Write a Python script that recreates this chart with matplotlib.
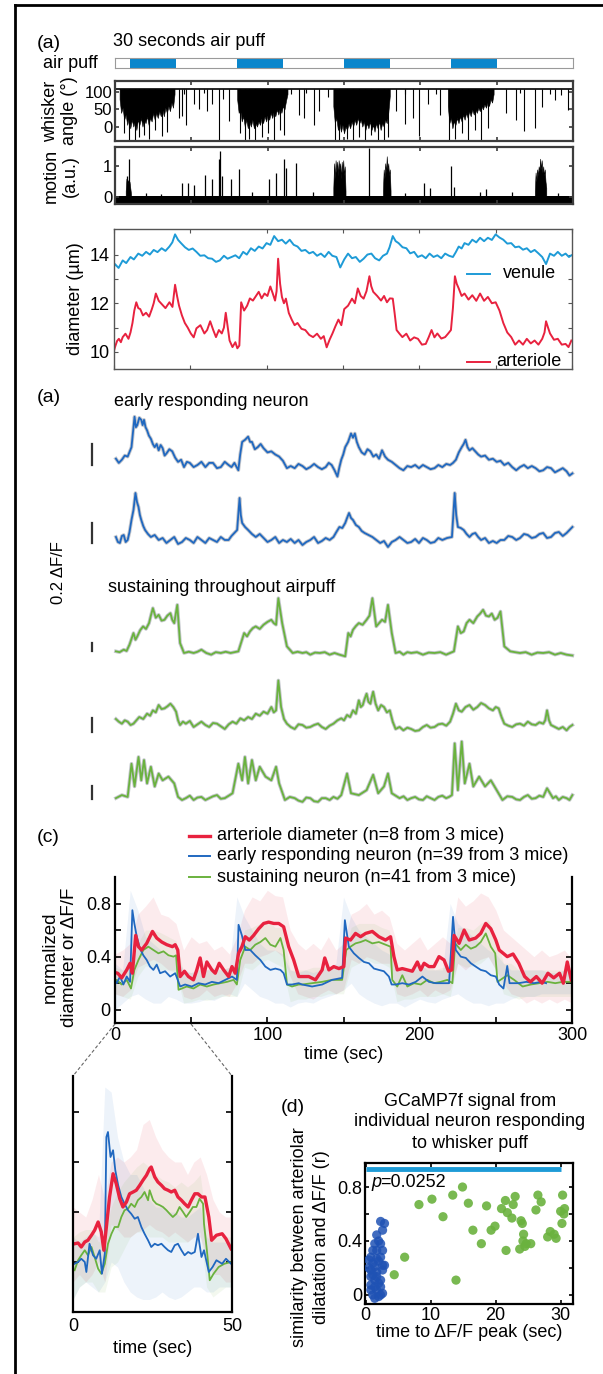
import numpy as np
import matplotlib
matplotlib.use("Agg")
import matplotlib.pyplot as plt
from matplotlib.lines import Line2D

plt.rcParams['font.family'] = ['Liberation Sans', 'DejaVu Sans']
plt.rcParams['font.size'] = 13

# ------------------------------------------------------------------------------------------
# data

puff_on = [10, 80, 150, 220]
puff_off = [40, 110, 180, 250]

# whisker angle (deg): resting level, dense whisking blocks (lower edge) and single dips
whisker_rest = 110
whisker_blocks = [
    [(3, 80), (4, 40), (5, 55), (6, 20), (7, 35), (8, 5), (9, 25), (10, -5), (11, 20), (12, 0), (13, 15), (14, -10),
     (15, 20), (16, 5), (17, 25), (18, 0), (19, 20), (20, 10), (21, 30), (22, 5), (23, 25), (24, 15), (25, 40),
     (26, 20), (27, 40), (28, 25), (29, 45), (30, 30), (31, 50), (32, 30), (33, 55), (34, 40), (35, 60), (36, 45),
     (37, 70), (38, 55), (39, 95)],
    [(80, 80), (81, 40), (82, 50), (83, 15), (84, 30), (85, 0), (86, 20), (87, -5), (88, 15), (89, 0), (90, 20),
     (91, -5), (92, 10), (93, 0), (94, 15), (95, 5), (96, 25), (97, 10), (98, 30), (99, 15), (100, 35), (101, 20),
     (102, 40), (103, 25), (104, 45), (105, 30), (106, 50), (107, 35), (108, 55), (109, 40), (110, 60), (111, 50),
     (112, 75), (113, 95)],
    [(143, 60), (144, 10), (145, 25), (146, -10), (147, 10), (148, -15), (149, 5), (150, -20), (151, 0), (152, -10),
     (153, 10), (154, -5), (155, 15), (156, 0), (157, 20), (158, 5), (159, 25), (160, 10), (161, 20), (162, 0),
     (163, 15), (164, -10), (165, 10), (166, -5), (167, 15), (168, -10), (169, 5), (170, -15), (171, 10), (172, -5),
     (173, 15), (174, -10), (175, 10), (176, 0), (177, 20), (178, 10), (179, 40), (180, 90)],
    [(218, 60), (219, 10), (220, 25), (221, -5), (222, 15), (223, 5), (224, 25), (225, 10), (226, 30), (227, 15),
     (228, 35), (229, 20), (230, 40), (231, 25), (232, 45), (233, 30), (234, 50), (235, 35), (236, 50), (237, 40),
     (238, 55), (239, 45), (240, 60), (241, 50), (242, 65), (243, 55), (244, 70), (245, 60), (246, 80), (247, 70),
     (248, 95)],
]
whisker_dips = [(6, -20), (9, -40), (13, -41), (16, -30), (19, -25), (22, -35), (26, -10), (31, -28), (34, -15),
                (41.7, 24), (44, 30), (46.4, 4), (51.5, 65), (55, 50), (60.5, 45), (63.6, 65), (68, -41), (71, 80),
                (74.6, 15), (82, -20), (85, -40), (88, -35), (92, -41), (96, -30), (100, -20), (104, -38), (108, -10),
                (111, -25), (120.6, 34), (123.9, 24), (130.5, 4), (133.8, 45), (139.3, 85), (144, -41), (147, -41),
                (152, -35), (156, -38), (160, -30), (164, -41), (168, -25), (172, -38), (176, -41), (179, -30),
                (184, 45), (189.7, 9), (195, 24), (199, -26), (205, 65), (213, 34), (219, -41), (223, -35), (227, -20),
                (231, -38), (236, -10), (240, -38), (244, -5), (256, 39), (262.5, 18), (268, -12), (275, -3),
                (280, 58), (288, 79), (297, 48), (45, 95), (58, 98), (115, 95), (125, 98), (190, 95), (210, 96),
                (265, 97), (285, 96), (292, 92)]

# motion (a.u.)
motion_rest = 0.03
motion_spikes = [(7.7, 0.68), (9.4, 1.23), (20, 0.12), (30, 0.1), (43.9, 0.46), (47.8, 0.46), (51.5, 0.4),
                 (59.2, 0.73), (63.6, 0.57), (68, 1.23), (68.6, 1.51), (70.2, 0.68), (75.7, 0.57), (81.1, 0.9),
                 (90, 0.15), (101, 0.57), (105.3, 0.79), (110.8, 1.23), (112.3, 0.96), (118.4, 1.12), (130, 0.15),
                 (166.5, 1.6), (190, 0.12), (202.6, 0.45), (206.6, 0.28), (220, 1.0), (221.8, 0.33), (239, 0.17),
                 (243, 0.25), (260, 0.15), (290, 0.12)]
motion_blocks = [
    [(7, 0.2), (7.5, 0.6), (8, 0.4), (8.5, 0.55), (9, 0.35), (9.5, 0.5), (10, 0.3), (10.5, 0.1)],
    [(143, 0.3), (143.5, 1.1), (144, 0.6), (144.5, 1.2), (145, 0.8), (145.5, 1.15), (146, 0.7), (146.5, 1.2),
     (147, 0.9), (147.5, 1.1), (148, 0.6), (148.5, 1.15), (149, 0.8), (149.5, 1.2), (150, 0.7), (150.5, 1.0),
     (151, 0.2)],
    [(175.5, 0.2), (176, 0.9), (176.5, 0.6), (177, 1.1), (177.5, 0.8), (178, 1.33), (178.5, 0.9), (179, 1.1),
     (179.5, 0.7), (180, 0.9), (180.5, 0.2)],
    [(275, 0.2), (275.5, 0.8), (276, 0.5), (276.5, 0.9), (277, 0.7), (277.5, 1.0), (278, 0.85), (278.5, 1.25),
     (279, 0.9), (279.5, 1.2), (280, 0.8), (280.5, 1.0), (281, 0.7), (281.5, 0.9), (282, 0.5), (282.5, 0.3)],
]

# vessel diameter (um)
venule = [(0, 13.5), (0.6, 13.61), (3, 13.45), (5.7, 13.76), (8, 13.65), (10.8, 13.9), (13, 13.8), (15.9, 14.04),
          (18.5, 13.95), (21, 14.11), (23.5, 14.0), (26, 14.19), (28.5, 14.1), (31.2, 14.26), (33.7, 14.15),
          (36.3, 14.33), (38.2, 14.5), (40, 14.83), (42, 14.6), (43.9, 14.47), (46.5, 14.3), (49, 14.19),
          (51.5, 14.25), (54, 14.11), (56.5, 13.95), (59.2, 13.97), (61.7, 13.85), (64.2, 13.83), (66.8, 13.7),
          (69.3, 13.76), (72, 13.95), (74.4, 13.83), (77, 13.9), (79.5, 13.97), (82, 13.85), (84.6, 14.11),
          (87, 14.0), (89.7, 14.26), (92.2, 14.15), (94.8, 14.33), (97.3, 14.25), (99.9, 14.47), (102.4, 14.4),
          (104.9, 14.76), (107.5, 14.55), (110, 14.61), (112.5, 14.45), (115.1, 14.61), (117.7, 14.4),
          (120.2, 14.33), (122.8, 14.15), (125.3, 14.19), (127.9, 14.05), (130.4, 14.11), (133, 13.95),
          (135.5, 14.04), (138, 13.9), (140.6, 14.11), (143, 13.95), (145.7, 13.9), (148.2, 13.47), (150.8, 13.8),
          (153.3, 14.04), (155.9, 13.85), (158.4, 13.9), (161, 13.7), (163.5, 13.83), (166, 14.0), (168.6, 14.04),
          (171, 13.85), (173.7, 13.76), (176.2, 13.95), (178.8, 14.04), (180.5, 14.3), (182.6, 14.76),
          (184.5, 14.55), (186.4, 14.47), (189, 14.3), (191.5, 14.26), (194, 14.05), (196.6, 14.11), (199, 13.9),
          (201.7, 13.97), (204.2, 13.85), (206.7, 14.04), (209.3, 13.9), (211.8, 13.97), (214.4, 13.85),
          (216.9, 14.04), (219.5, 13.95), (222, 13.9), (223.9, 14.1), (225.8, 14.33), (227.7, 14.25),
          (229.6, 14.47), (232.2, 14.4), (234.7, 14.61), (237.3, 14.5), (239.8, 14.69), (242.4, 14.55),
          (244.9, 14.69), (247.5, 14.6), (250, 14.83), (252.5, 14.7), (255, 14.61), (257.6, 14.45),
          (260.2, 14.47), (262.8, 14.3), (265.3, 14.33), (267.9, 14.2), (270.4, 14.26), (273, 14.1),
          (275.5, 14.19), (278, 14.05), (280.5, 13.9), (283, 13.61), (285.6, 14.04), (288.2, 13.95),
          (290.7, 14.11), (293.3, 13.95), (295.8, 14.04), (298, 13.9), (299.6, 13.97)]
arteriole = [(0, 10.05), (0.6, 10.19), (2, 10.45), (3.2, 10.54), (4.5, 10.4), (5.7, 10.61), (7.5, 10.75),
             (9.5, 10.54), (10.8, 10.8), (12.1, 11.19), (13.3, 11.7), (14.6, 12.04), (15.9, 11.8), (17.2, 11.76),
             (19, 11.5), (21, 11.61), (23, 11.45), (24.8, 11.76), (26, 12.0), (27.4, 12.4), (29.3, 12.1),
             (31.2, 11.97), (33.7, 11.8), (36.3, 12.04), (38.3, 11.85), (40, 12.76), (41.3, 12.3), (42.6, 11.9),
             (44.5, 11.5), (46.4, 11.19), (48.3, 11.0), (50.3, 10.76), (52.2, 10.6), (54, 10.97), (56.6, 11.1),
             (59.2, 10.76), (61, 10.9), (63, 11.26), (65, 10.9), (66.8, 10.61), (68.7, 10.9), (70.6, 10.76),
             (72, 11.0), (73.2, 11.61), (74.5, 11.0), (75.7, 10.47), (77.6, 10.2), (79.5, 10.4), (80.8, 10.15),
             (82.1, 10.26), (83.3, 12.04), (85.2, 11.7), (87.2, 11.9), (89, 12.2), (91, 12.11), (93, 12.3),
             (94.8, 12.47), (96.7, 12.2), (98.6, 12.4), (100.5, 12.3), (102.4, 12.69), (104, 12.4), (105.5, 12.11),
             (106.5, 12.5), (107.5, 13.83), (108.8, 12.8), (110, 12.26), (111.3, 12.0), (112.6, 12.19),
             (114.5, 11.6), (116.4, 11.33), (118.3, 11.1), (120.2, 11.19), (122.8, 10.95), (125.3, 10.9),
             (127.9, 10.7), (130.4, 10.61), (133, 10.75), (135.5, 10.54), (137.4, 10.65), (139.3, 10.19),
             (141.2, 10.5), (143.1, 10.76), (145, 11.05), (147, 11.33), (148.9, 11.1), (150.8, 11.76),
             (153.3, 11.9), (155.9, 12.19), (157.8, 12.0), (159.7, 12.61), (161.6, 12.3), (163.5, 12.19),
             (165.4, 12.5), (167.3, 13.11), (168.5, 12.7), (169.8, 12.47), (172.4, 12.3), (174.9, 12.11),
             (176.9, 12.3), (178.8, 12.04), (180.7, 12.2), (182.6, 12.19), (183.8, 11.6), (185.1, 10.9),
             (187, 10.75), (188.9, 10.61), (191.5, 10.75), (194, 10.47), (196.6, 10.6), (199.1, 10.54),
             (201.7, 10.3), (204.2, 10.33), (206.1, 10.6), (208, 10.9), (209.9, 10.6), (211.8, 10.76),
             (214.4, 10.55), (216.9, 10.61), (218.8, 10.75), (220.7, 10.9), (222, 11.8), (223.3, 13.11),
             (224.5, 12.8), (225.8, 12.61), (227.7, 12.3), (229.6, 12.4), (232.2, 12.15), (234.7, 12.33),
             (237.3, 12.1), (239.8, 12.4), (242.4, 12.1), (244.9, 12.26), (247.5, 12.0), (250, 12.04),
             (252.5, 11.7), (255, 11.19), (257.6, 10.8), (260.2, 10.61), (262.8, 10.3), (265.3, 10.47),
             (267.9, 10.3), (270.4, 10.54), (273, 10.35), (275.5, 10.47), (278, 10.3), (280.5, 10.54), (282, 10.8),
             (283, 11.26), (284.3, 11.0), (285.6, 10.76), (288.2, 10.5), (290.7, 10.54), (293.3, 10.3),
             (295.8, 10.33), (297.7, 10.2), (299.6, 10.47)]

# single-neuron dF/F traces
neuron_early_1 = [(0.6, 0.06), (2.5, 0.02), (4.5, 0.05), (6.4, 0.09), (8.3, 0.08), (10.8, 0.17), (12.8, 0.46),
                  (13.7, 0.36), (14.6, 0.38), (15.9, 0.45), (17.2, 0.43), (18.1, 0.38), (19.0, 0.43), (20, 0.36),
                  (21.0, 0.33), (22.2, 0.28), (23.5, 0.25), (24.8, 0.2), (26.0, 0.17), (27.3, 0.2), (28.6, 0.14),
                  (29.9, 0.19), (31.2, 0.16), (32.5, 0.09), (33.7, 0.11), (35.6, 0.15), (37.5, 0.13), (39.4, 0.07),
                  (41.3, 0.03), (43.3, 0.05), (45.2, -0.02), (47.1, 0.03), (49.0, 0.02), (51.5, -0.02), (54.0, 0.0),
                  (56.6, 0.03), (59.2, -0.02), (61.7, 0.02), (64.2, 0.02), (66.8, -0.03), (69.3, -0.02),
                  (71.9, 0.03), (74.4, 0.0), (76.3, -0.02), (78.2, 0.02), (80.8, -0.05), (82, 0.1), (83.3, 0.22),
                  (85.2, 0.24), (87.2, 0.27), (88.5, 0.22), (89.7, 0.22), (91.6, 0.15), (93.5, 0.17), (95.4, 0.2),
                  (97.3, 0.16), (99.9, 0.12), (102.4, 0.13), (105, 0.1), (107.5, 0.08), (110, 0.04), (112.6, -0.03),
                  (115.1, -0.01), (117.7, -0.03), (120.2, 0.01), (122.8, -0.01), (125.3, -0.04), (127.9, -0.02),
                  (130.4, 0.01), (133.0, -0.02), (135.5, -0.04), (138.0, -0.02), (140, 0.02), (141.9, 0.0),
                  (143.8, -0.05), (145.7, -0.11), (147, -0.02), (148.2, 0.05), (149.5, 0.1), (150.8, 0.17),
                  (152.7, 0.22), (154.6, 0.30), (155.9, 0.26), (157.1, 0.30), (158.4, 0.22), (159.7, 0.17),
                  (161.6, 0.12), (163.5, 0.10), (165.4, 0.15), (167.3, 0.13), (169.2, 0.08), (171.1, 0.10),
                  (173, 0.06), (174.9, 0.14), (176.9, 0.08), (178.8, 0.05), (181.3, 0.03), (183.8, 0.0),
                  (186.4, -0.03), (188.9, -0.05), (191.5, -0.01), (194.0, -0.02), (196.6, 0.0), (199.1, -0.03),
                  (201.7, 0.0), (204.2, -0.02), (206.7, -0.04), (209.3, -0.03), (211.8, 0.0), (214.4, -0.02),
                  (217, 0.01), (219.5, 0.0), (221.4, 0.02), (223.3, 0.05), (225.2, 0.12), (227.1, 0.17),
                  (228.4, 0.2), (229.6, 0.24), (230.9, 0.17), (232.2, 0.14), (234.1, 0.16), (236.0, 0.13),
                  (237.9, 0.1), (239.8, 0.08), (242.4, 0.09), (244.9, 0.05), (247.5, 0.06), (250.0, 0.03),
                  (252.5, 0.04), (255.0, 0.0), (257.6, 0.02), (260.2, -0.02), (262.8, -0.05), (265.3, -0.02),
                  (267.9, 0.0), (270.4, -0.03), (273, -0.01), (275.5, -0.03), (278, -0.06), (280.5, -0.05),
                  (283, -0.02), (285.6, -0.03), (288.2, -0.07), (290.7, -0.05), (293.3, -0.03), (295.8, -0.06),
                  (297.7, -0.1), (299.6, -0.08)]
neuron_early_2 = [(0.6, 0.03), (1.9, -0.02), (3.2, -0.03), (4.5, 0.04), (5.7, 0.05), (7, -0.02), (8.3, 0.0),
                  (9.5, 0.08), (10.8, 0.2), (12.1, 0.3), (13.4, 0.47), (14.4, 0.38), (15.4, 0.33), (16.3, 0.25),
                  (17.2, 0.2), (18.5, 0.14), (19.7, 0.1), (21.6, 0.06), (23.5, 0.03), (26, 0.05), (28.6, 0.0),
                  (31.2, 0.02), (33.7, -0.03), (36.3, 0.0), (38.8, 0.03), (41.3, -0.04), (43.9, -0.02), (46.4, 0.02),
                  (49, 0.0), (51.5, -0.03), (54, 0.03), (56.6, 0.0), (59.2, -0.03), (61.7, 0.02), (64.2, 0.0),
                  (66.8, -0.02), (69.3, 0.03), (71.9, 0.0), (74.4, 0.0), (76.3, 0.04), (78.2, 0.07), (80, 0.1),
                  (81.6, 0.42), (82.4, 0.25), (83.3, 0.17), (85.2, 0.13), (87.2, 0.1), (89.7, 0.06), (92.2, 0.03),
                  (94.8, 0.06), (97.3, 0.02), (99.9, -0.02), (102.4, 0.0), (105, 0.03), (107.5, -0.03), (110, 0.0),
                  (112.6, -0.02), (115.1, 0.01), (117.7, -0.03), (120.2, 0.0), (122.8, -0.05), (125.3, -0.02),
                  (127.9, 0.0), (130.4, 0.03), (133, -0.03), (135.5, -0.01), (138, 0.02), (140.6, 0.0),
                  (143.1, 0.03), (145, 0.08), (147, 0.13), (148.9, 0.12), (150.8, 0.17), (152, 0.22), (153.3, 0.27),
                  (154.6, 0.22), (155.9, 0.2), (157.8, 0.15), (159.7, 0.13), (161.6, 0.09), (163.5, 0.07),
                  (166, 0.05), (168.6, 0.03), (171.1, 0.0), (173.7, -0.03), (176.2, -0.01), (178.8, -0.07),
                  (181.3, -0.02), (183.8, 0.0), (186.4, 0.03), (188.9, 0.0), (191.5, -0.03), (194, -0.02),
                  (196.6, 0.01), (199.1, -0.03), (201.7, 0.02), (204.2, 0.0), (206.7, -0.03), (209.3, -0.02),
                  (211.8, 0.02), (214.4, 0.0), (217.5, 0.02), (220.7, 0.03), (222.5, 0.47), (223.5, 0.25),
                  (224.6, 0.13), (226.5, 0.12), (228.4, 0.1), (230.3, 0.06), (232.2, 0.03), (234.1, 0.06),
                  (236, 0.07), (237.9, 0.03), (239.8, 0.0), (242.4, 0.02), (244.9, -0.03), (247.5, -0.01),
                  (250, -0.03), (252.5, 0.0), (255, 0.0), (257.6, 0.04), (260.2, 0.03), (262.8, 0.0), (265.3, 0.02),
                  (267.9, 0.06), (270.4, 0.05), (273, 0.02), (275.5, 0.03), (278, 0.06), (280.5, 0.07), (283, 0.02),
                  (285.6, 0.03), (288.2, 0.07), (290.7, 0.08), (293.3, 0.04), (295.8, 0.07), (297.7, 0.1),
                  (299.6, 0.13)]
neuron_sust_1 = [(0.6, 0.04), (3, 0.02), (5.7, 0.08), (7.6, 0.05), (9.5, 0.2), (12.1, 0.48), (13.4, 0.32),
                 (14.6, 0.4), (16.5, 0.55), (18.4, 0.64), (20.3, 0.58), (22.3, 0.72), (23.5, 0.9), (24.8, 1.08),
                 (26.7, 0.85), (28.6, 0.92), (30.5, 0.78), (32.4, 0.8), (34.3, 0.9), (36.3, 0.96), (37.5, 0.8),
                 (38.8, 0.72), (40.8, 1.16), (42.6, 0.24), (45.2, 0.0), (48.3, 0.03), (51.5, 0.0), (54, 0.03),
                 (56.6, 0.08), (59.8, 0.0), (63, -0.04), (66, 0.02), (69.3, 0.0), (72.5, 0.03), (75.7, 0.0),
                 (80.8, 0.04), (84.6, 0.48), (86.5, 0.4), (88.4, 0.52), (90.3, 0.6), (92.2, 0.64), (94.8, 0.58),
                 (97.3, 0.68), (99.9, 0.75), (102.4, 0.8), (104, 0.72), (105.5, 0.68), (107, 1.32), (109.5, 0.72),
                 (112.6, 0.16), (116.4, 0.0), (119.6, 0.03), (122.8, 0.0), (125.3, 0.02), (127.9, -0.04),
                 (131, 0.01), (134.2, 0.0), (137.4, 0.02), (140.6, -0.04), (143.8, 0.0), (147, -0.04),
                 (150.8, -0.08), (152.8, 0.48), (154.3, 0.4), (155.9, 0.56), (157.8, 0.65), (159.7, 0.72),
                 (162.2, 0.68), (164.8, 0.8), (166.7, 0.9), (168.6, 1.32), (171.1, 0.64), (174.9, 0.8),
                 (176.9, 0.75), (178.8, 1.16), (181.3, 0.48), (183.8, 0.0), (186.4, 0.03), (188.9, -0.04),
                 (191.5, 0.02), (194, 0.0), (197.8, 0.02), (201.7, -0.04), (205.5, 0.01), (209.3, 0.0),
                 (213.1, 0.02), (216.9, -0.04), (222, 0.04), (224.6, 0.64), (226.5, 0.48), (228.4, 0.52),
                 (230.3, 0.72), (232.2, 0.8), (234.7, 0.72), (237.3, 0.88), (239.2, 0.95), (241.1, 1.04),
                 (243, 0.9), (244.9, 0.88), (246.8, 0.95), (248.7, 0.8), (250.6, 0.85), (252.5, 1.0), (255, 0.16),
                 (258.9, 0.04), (262, 0.02), (265.3, 0.0), (269, 0.02), (272.9, -0.04), (276.7, 0.01),
                 (280.5, 0.0), (284.3, 0.02), (288.2, -0.04), (292, 0.0), (295.8, -0.04), (299.6, -0.06)]
neuron_sust_2 = [(0.6, 0.12), (2.5, 0.08), (4.5, 0.05), (6.4, 0.1), (8.3, 0.08), (10.2, 0.03), (12.1, 0.05),
                 (14, 0.1), (15.9, 0.15), (18.5, 0.12), (21, 0.2), (23, 0.17), (24.8, 0.25), (26.7, 0.22),
                 (28.6, 0.33), (30.5, 0.27), (32.4, 0.28), (34.3, 0.31), (36.3, 0.35), (38.2, 0.3), (40, 0.23),
                 (41.3, 0.1), (42.6, 0.03), (44.5, 0.08), (46.4, 0.05), (49, 0.09), (51.5, 0.0), (54, 0.04),
                 (56.6, 0.08), (59.2, 0.03), (61.7, 0.0), (64.2, 0.06), (66.8, 0.05), (69.3, 0.01), (71.9, -0.03),
                 (74.5, 0.04), (77, 0.08), (79.5, 0.05), (82.1, 0.13), (84.6, 0.1), (87.2, 0.15), (89.7, 0.12),
                 (92.2, 0.2), (94.8, 0.17), (97.3, 0.23), (99.9, 0.2), (102.4, 0.3), (104, 0.22), (105.5, 0.25),
                 (107, 0.7), (108.8, 0.3), (110.7, 0.12), (112.6, 0.05), (115.1, 0.0), (117.7, -0.03),
                 (120.2, 0.04), (122.8, 0.03), (125.3, -0.01), (127.9, 0.0), (130.4, 0.03), (133, 0.05),
                 (135.5, 0.0), (138, -0.03), (140.6, 0.02), (143.1, 0.05), (145.7, 0.1), (148.2, 0.13), (150, 0.1),
                 (152, 0.18), (154, 0.15), (155.9, 0.25), (157.8, 0.2), (159.7, 0.4), (161, 0.3), (162.3, 0.33),
                 (163.5, 0.42), (164.8, 0.5), (166, 0.38), (167.3, 0.35), (168.2, 0.45), (169.1, 0.53),
                 (170.7, 0.35), (172.4, 0.25), (174.3, 0.33), (176.2, 0.3), (178.1, 0.22), (180, 0.25),
                 (181.9, 0.08), (183.8, -0.03), (186.4, 0.0), (188.9, -0.05), (191.5, -0.01), (194, -0.03),
                 (196.6, -0.06), (199.1, -0.05), (201.7, 0.0), (204.2, 0.03), (206.7, -0.01), (209.3, 0.0),
                 (211.8, 0.04), (214.4, 0.05), (217, 0.02), (219.5, 0.08), (221.4, 0.2), (223.3, 0.35),
                 (225.2, 0.25), (227.1, 0.23), (229.6, 0.3), (232.2, 0.33), (234.7, 0.26), (237.3, 0.3),
                 (239.8, 0.36), (242.4, 0.33), (244.9, 0.28), (247.5, 0.25), (249.4, 0.3), (251.3, 0.28),
                 (253.2, 0.15), (255, 0.05), (257.6, 0.02), (260.2, 0.0), (262.8, 0.04), (265.3, 0.05),
                 (267.9, 0.02), (270.4, 0.08), (273, 0.04), (275.5, 0.03), (278, 0.07), (280.5, 0.05),
                 (281.8, 0.1), (283, 0.25), (284.3, 0.1), (285.6, 0.03), (288.2, 0.0), (290.7, -0.03),
                 (293.3, 0.0), (295.8, -0.05), (297.7, 0.0), (299.6, 0.03)]
neuron_sust_3 = [(0.6, 0.03), (4.5, 0.08), (8.3, 0.05), (10.8, 0.59), (12.8, 0.22), (15.4, 0.7), (17.2, 0.32),
                 (19, 0.65), (21, 0.27), (23.5, 0.54), (26, 0.22), (28.6, 0.43), (31.2, 0.32), (35, 0.38),
                 (38.8, 0.27), (41.3, 0.05), (43.9, 0.0), (46.4, 0.03), (49, 0.07), (51.5, 0.0), (54, 0.04),
                 (56.6, 0.05), (59.2, 0.0), (61.7, 0.03), (64.2, 0.06), (66.8, 0.08), (69.3, 0.02), (71.9, 0.03),
                 (74.5, 0.07), (77, 0.11), (80.8, 0.59), (83.3, 0.32), (85.1, 0.7), (87.2, 0.27), (89.7, 0.65),
                 (92.2, 0.32), (94.8, 0.54), (98.6, 0.38), (102.4, 0.32), (105.5, 0.54), (107.5, 0.27),
                 (111.3, 0.0), (114.5, 0.05), (117.7, 0.03), (120.2, -0.01), (122.8, -0.03), (125.3, 0.04),
                 (127.9, 0.03), (130.4, -0.02), (133, -0.03), (135.5, 0.03), (138, 0.03), (140.6, 0.0),
                 (143.1, 0.05), (145.7, 0.02), (148.2, 0.08), (152, 0.43), (154.6, 0.11), (159.7, 0.08),
                 (164.8, 0.16), (169.1, 0.41), (172.4, 0.11), (176.2, 0.22), (178.8, 0.43), (181.3, 0.11),
                 (186.4, 0.03), (189, 0.06), (191.5, 0.0), (194, 0.03), (196.6, 0.05), (199.1, 0.01), (201.7, 0.0),
                 (204.2, 0.06), (206.7, 0.03), (209.3, 0.0), (211.8, 0.05), (214.4, 0.07), (216.9, 0.03),
                 (218.8, 0.05), (220.7, 0.08), (222.5, 0.92), (224.6, 0.16), (227.1, 0.95), (229.1, 0.27),
                 (232.2, 0.59), (234.7, 0.22), (238.5, 0.38), (242.4, 0.22), (246.2, 0.32), (250, 0.16),
                 (253.8, 0.0), (257, 0.06), (260.2, 0.05), (262.8, 0.01), (265.3, 0.0), (267.9, 0.05),
                 (270.4, 0.08), (273, 0.02), (275.5, 0.03), (278, 0.07), (280.5, 0.05), (283, 0.19), (286.9, 0.03),
                 (288.8, 0.06), (290.7, 0.0), (293.3, 0.05), (295.8, 0.03), (297.7, 0.0), (299.6, 0.08)]

# (c) population means
mean_arteriole = [(0, 0.28), (1.8, 0.275), (4.4, 0.24), (7.7, 0.3), (9.9, 0.35), (11.4, 0.275), (13.6, 0.56),
                  (15.4, 0.475), (17.5, 0.45), (20.8, 0.5), (24.6, 0.59), (27.4, 0.54), (30.7, 0.51), (34, 0.49),
                  (37.7, 0.475), (39.5, 0.49), (41.2, 0.45), (42.8, 0.25), (45.6, 0.29), (48.2, 0.25),
                  (51.5, 0.225), (53.7, 0.3), (55.9, 0.39), (58.1, 0.25), (60.3, 0.36), (63.6, 0.3), (65.8, 0.275),
                  (68.4, 0.35), (71.3, 0.3), (74.6, 0.25), (76.8, 0.325), (78.9, 0.275), (81.1, 0.425),
                  (83.3, 0.475), (85.5, 0.55), (88.2, 0.525), (91, 0.56), (94.3, 0.61), (97.6, 0.65), (100.9, 0.66),
                  (104.2, 0.65), (107.5, 0.65), (110.7, 0.625), (114, 0.475), (117.3, 0.375), (120.6, 0.25),
                  (122.8, 0.25), (127.2, 0.25), (131.6, 0.225), (136, 0.3), (137.7, 0.39), (140.4, 0.3),
                  (143.6, 0.325), (147, 0.31), (150.2, 0.325), (151.3, 0.54), (154.6, 0.525), (157.9, 0.575),
                  (161.2, 0.55), (164.5, 0.575), (168.9, 0.59), (173.2, 0.55), (177.6, 0.525), (180.9, 0.55),
                  (183.1, 0.4), (185.3, 0.3), (188.6, 0.31), (191.9, 0.3), (195.2, 0.29), (198.5, 0.36),
                  (200.7, 0.3), (202.9, 0.35), (206.1, 0.325), (209.4, 0.325), (212.7, 0.4), (216, 0.375),
                  (218.9, 0.29), (221.1, 0.3), (222.6, 0.56), (225.9, 0.5), (229.2, 0.6), (232.5, 0.525),
                  (236.8, 0.54), (240.1, 0.575), (243.4, 0.65), (246.7, 0.61), (250, 0.525), (252.2, 0.45),
                  (257.5, 0.4), (261.3, 0.42), (265.1, 0.35), (268.9, 0.25), (272.7, 0.21), (276.6, 0.25),
                  (280.4, 0.2), (284.2, 0.275), (288, 0.24), (291.8, 0.275), (294.3, 0.2), (296.9, 0.36),
                  (299.5, 0.225)]
mean_early = [(0, 0.22), (1.1, 0.2), (3.3, 0.25), (5.5, 0.19), (7.7, 0.25), (9.9, 0.21), (11.4, 0.75), (12.7, 0.65),
              (14.3, 0.55), (16.4, 0.46), (18.6, 0.41), (20.8, 0.375), (23, 0.325), (25.2, 0.3), (27.4, 0.34),
              (29.6, 0.275), (32.9, 0.29), (36.2, 0.25), (39.5, 0.275), (41.2, 0.225), (42.8, 0.175), (46, 0.19),
              (50.4, 0.175), (54.8, 0.2), (59.2, 0.19), (63.6, 0.21), (68, 0.2), (72.4, 0.225), (76.8, 0.25),
              (80, 0.225), (81.1, 0.64), (83.3, 0.56), (85.5, 0.45), (88.8, 0.45), (92.1, 0.41), (95.4, 0.375),
              (98.7, 0.325), (102, 0.3), (105.3, 0.31), (108.6, 0.3), (110.7, 0.275), (112.9, 0.19),
              (116.2, 0.19), (120.6, 0.2), (122.8, 0.19), (129.4, 0.175), (136, 0.19), (142.5, 0.225),
              (149.1, 0.24), (150.9, 0.675), (153.5, 0.475), (156.8, 0.425), (160.1, 0.39), (163.4, 0.36),
              (166.7, 0.35), (170, 0.31), (173.2, 0.3), (176.5, 0.29), (179.8, 0.25), (181.6, 0.19),
              (184.2, 0.19), (188.6, 0.2), (193, 0.19), (197.4, 0.21), (201.8, 0.25), (206.1, 0.21),
              (210.5, 0.2), (214.9, 0.2), (219.3, 0.2), (221.9, 0.7), (223.7, 0.45), (227, 0.4), (230.3, 0.39),
              (233.6, 0.35), (236.8, 0.325), (240.1, 0.3), (243.4, 0.29), (246.7, 0.26), (250, 0.25),
              (252.2, 0.19), (255, 0.16), (257.5, 0.33), (259, 0.2), (265, 0.2), (270, 0.21), (275, 0.2),
              (280, 0.21), (283, 0.2)]
mean_sust = [(0, 0.2), (1.1, 0.225), (4.4, 0.19), (7.7, 0.225), (10.5, 0.16), (12.7, 0.3), (15.4, 0.375),
             (18.6, 0.45), (21.9, 0.475), (25.2, 0.45), (28.5, 0.425), (31.8, 0.44), (35.1, 0.41), (38.4, 0.4),
             (40.1, 0.41), (41.7, 0.15), (43.9, 0.16), (47.1, 0.175), (51.5, 0.16), (55.9, 0.19), (60.3, 0.175),
             (64.7, 0.19), (69.1, 0.2), (73.5, 0.21), (77.9, 0.225), (80, 0.19), (82.2, 0.375), (85.5, 0.475),
             (88.8, 0.45), (92.1, 0.49), (95.4, 0.51), (98.7, 0.54), (102, 0.49), (105.3, 0.475), (108.6, 0.54),
             (110.7, 0.45), (112.9, 0.19), (116.2, 0.175), (120.6, 0.19), (122.8, 0.19), (129.4, 0.2),
             (136, 0.21), (142.5, 0.225), (149.1, 0.225), (151.8, 0.45), (154.6, 0.475), (157.9, 0.5),
             (161.2, 0.51), (164.5, 0.525), (168.9, 0.5), (173.2, 0.51), (177.6, 0.49), (180.9, 0.475),
             (182, 0.225), (185.3, 0.175), (188.6, 0.26), (191.9, 0.175), (196.3, 0.2), (200.7, 0.19),
             (205, 0.225), (209.4, 0.2), (213.8, 0.21), (218.2, 0.225), (221.5, 0.2), (223.3, 0.5), (227, 0.45),
             (230.3, 0.49), (233.6, 0.46), (236.8, 0.475), (240.1, 0.51), (243.4, 0.575), (246.7, 0.475),
             (249.6, 0.425), (251.1, 0.21), (257.5, 0.26), (262, 0.225), (267.6, 0.175), (273, 0.19),
             (278.5, 0.2), (284, 0.21), (289, 0.2), (294, 0.21), (300, 0.21)]

# (c) shaded spread, sampled every 5 s
band_t = np.arange(0, 301, 5)
band_art_hi = [0.42, 0.45, 0.5, 0.72, 0.78, 0.85, 0.72, 0.7, 0.65, 0.45, 0.55, 0.5, 0.52, 0.45, 0.48, 0.42, 0.55,
               0.75, 0.85, 0.82, 0.9, 0.86, 0.85, 0.6, 0.5, 0.45, 0.5, 0.45, 0.55, 0.45, 0.5, 0.72, 0.75, 0.8, 0.72,
               0.75, 0.7, 0.5, 0.45, 0.5, 0.55, 0.45, 0.5, 0.55, 0.5, 0.85, 0.78, 0.82, 0.88, 0.85, 0.75, 0.6, 0.55,
               0.5, 0.45, 0.4, 0.45, 0.4, 0.42, 0.45, 0.38]
band_art_lo = [0.12, 0.1, 0.15, 0.32, 0.35, 0.38, 0.35, 0.3, 0.3, 0.1, 0.08, 0.1, 0.15, 0.1, 0.12, 0.1, 0.2, 0.35,
               0.35, 0.4, 0.42, 0.45, 0.4, 0.25, 0.12, 0.1, 0.08, 0.12, 0.15, 0.12, 0.15, 0.38, 0.35, 0.4, 0.38,
               0.35, 0.35, 0.12, 0.1, 0.12, 0.15, 0.1, 0.15, 0.12, 0.15, 0.35, 0.3, 0.35, 0.38, 0.4, 0.3, 0.2, 0.12,
               0.1, 0.05, 0.08, 0.05, 0.08, 0.05, 0.08, 0.05]
band_early_hi = [0.35, 0.3, 0.9, 0.75, 0.55, 0.5, 0.45, 0.4, 0.4, 0.3, 0.28, 0.3, 0.3, 0.32, 0.3, 0.32, 0.85, 0.7,
                 0.6, 0.5, 0.45, 0.45, 0.42, 0.3, 0.28, 0.3, 0.28, 0.3, 0.32, 0.35, 0.85, 0.7, 0.6, 0.55, 0.5, 0.45,
                 0.42, 0.3, 0.3, 0.32, 0.35, 0.3, 0.3, 0.3, 0.8, 0.65, 0.6, 0.55, 0.5, 0.45, 0.42, 0.35, 0.3, 0.3,
                 0.3, 0.3, 0.3, 0.28, 0.28, 0.3, 0.3]
band_early_lo = [0.0, 0.05, 0.1, 0.12, 0.08, 0.05, 0.05, 0.1, 0.08, 0.05, 0.05, 0.06, 0.08, 0.07, 0.1, 0.12, 0.1,
                 0.2, 0.15, 0.1, 0.08, 0.05, 0.05, 0.02, 0.05, 0.06, 0.05, 0.08, 0.1, 0.12, 0.15, 0.2, 0.12, 0.08,
                 0.05, 0.03, 0.05, 0.05, 0.02, 0.05, 0.08, 0.06, 0.05, 0.08, 0.1, 0.12, 0.08, 0.05, 0.05, 0.03, 0.05,
                 0.05, 0.08, 0.1, 0.1, 0.1, 0.12, 0.12, 0.12, 0.12, 0.12]
band_sust_hi = [0.32, 0.3, 0.3, 0.5, 0.6, 0.6, 0.58, 0.55, 0.52, 0.28, 0.28, 0.3, 0.3, 0.3, 0.3, 0.32, 0.3, 0.6,
                0.62, 0.65, 0.68, 0.62, 0.62, 0.3, 0.3, 0.3, 0.32, 0.32, 0.33, 0.33, 0.35, 0.62, 0.65, 0.65, 0.65,
                0.62, 0.6, 0.3, 0.3, 0.3, 0.3, 0.33, 0.3, 0.32, 0.32, 0.62, 0.62, 0.6, 0.65, 0.68, 0.55, 0.35, 0.35,
                0.3, 0.3, 0.3, 0.3, 0.3, 0.3, 0.3, 0.3]
band_sust_lo = [0.12, 0.1, 0.08, 0.25, 0.33, 0.32, 0.3, 0.3, 0.28, 0.05, 0.06, 0.08, 0.07, 0.08, 0.1, 0.1, 0.1,
                0.32, 0.3, 0.35, 0.38, 0.35, 0.32, 0.06, 0.08, 0.08, 0.1, 0.1, 0.12, 0.12, 0.12, 0.32, 0.35, 0.38,
                0.35, 0.35, 0.32, 0.06, 0.08, 0.08, 0.1, 0.1, 0.1, 0.12, 0.1, 0.35, 0.32, 0.33, 0.35, 0.4, 0.3, 0.12,
                0.1, 0.08, 0.1, 0.1, 0.1, 0.1, 0.1, 0.1, 0.1]

# first 50 s, finer sampling
zoom_arteriole = [(0.5, 0.273), (1.6, 0.276), (2.6, 0.26), (3.7, 0.28), (4.7, 0.287), (5.8, 0.307), (6.8, 0.327),
                  (7.9, 0.36), (8.9, 0.32), (9.7, 0.247), (10.5, 0.34), (11.5, 0.46), (12.6, 0.553), (13.6, 0.513),
                  (14.7, 0.453), (15.7, 0.42), (16.8, 0.44), (17.8, 0.473), (18.9, 0.48), (19.9, 0.487),
                  (21, 0.507), (22, 0.527), (23.1, 0.547), (24.1, 0.573), (24.6, 0.58), (25.7, 0.54), (26.7, 0.52),
                  (27.8, 0.507), (28.8, 0.493), (29.9, 0.487), (30.9, 0.48), (32, 0.487), (33, 0.46), (34.1, 0.447),
                  (35.1, 0.433), (36.2, 0.42), (37.2, 0.447), (38.3, 0.473), (39.3, 0.473), (40.4, 0.46),
                  (41.5, 0.46), (42.7, 0.38), (43.6, 0.287), (45.1, 0.307), (46.9, 0.313), (48.1, 0.293),
                  (49.7, 0.253)]
zoom_early = [(0.5, 0.193), (1.6, 0.2), (2.6, 0.213), (3.7, 0.2), (4.2, 0.16), (5.2, 0.273), (6.3, 0.227),
              (7.3, 0.213), (8.4, 0.247), (9.1, 0.153), (10, 0.233), (10.5, 0.7), (11, 0.72), (11.8, 0.62),
              (12.6, 0.647), (13.3, 0.567), (14.2, 0.507), (15.2, 0.46), (16.2, 0.433), (17.3, 0.407),
              (18.3, 0.393), (19.4, 0.373), (20.4, 0.38), (21.5, 0.34), (22.5, 0.313), (23.6, 0.287), (24.6, 0.26),
              (25.7, 0.273), (26.7, 0.267), (27.8, 0.273), (28.8, 0.26), (29.9, 0.247), (30.9, 0.24), (32, 0.267),
              (33, 0.273), (34.1, 0.247), (35.1, 0.227), (36.2, 0.24), (37.2, 0.233), (38.3, 0.24), (39.3, 0.313),
              (40.4, 0.22), (41.2, 0.247), (42.7, 0.16), (43.9, 0.18), (45.1, 0.207), (46.9, 0.193), (48.1, 0.213),
              (49.7, 0.193)]
zoom_sust = [(0.5, 0.167), (1.6, 0.207), (2.6, 0.227), (3.7, 0.247), (4.7, 0.227), (5.8, 0.26), (6.8, 0.22),
             (7.9, 0.173), (8.9, 0.153), (10, 0.193), (11, 0.273), (12.1, 0.313), (13.1, 0.34), (14.2, 0.34),
             (15.2, 0.38), (16.2, 0.407), (17.3, 0.413), (18.3, 0.433), (19.4, 0.42), (20.4, 0.447), (21.5, 0.46),
             (22.5, 0.48), (23.6, 0.447), (24.1, 0.487), (25.2, 0.447), (26.2, 0.433), (27.3, 0.427), (28.3, 0.42),
             (29.4, 0.407), (30.4, 0.393), (31.4, 0.38), (32.5, 0.393), (33.5, 0.42), (34.6, 0.4), (35.6, 0.38),
             (36.7, 0.4), (37.7, 0.42), (38.8, 0.42), (39.8, 0.453), (40.9, 0.433), (41.2, 0.353), (42.1, 0.247),
             (43, 0.127), (44.2, 0.153), (45.8, 0.18), (47.6, 0.193), (49.7, 0.2)]
zoom_band_t = np.arange(0, 51, 2)
zoom_art_hi = [0.42, 0.4, 0.38, 0.45, 0.55, 0.45, 0.6, 0.62, 0.6, 0.62, 0.65, 0.75, 0.77, 0.7, 0.65, 0.62, 0.6, 0.6,
               0.55, 0.6, 0.62, 0.55, 0.45, 0.4, 0.38, 0.38]
zoom_art_lo = [0.12, 0.15, 0.12, 0.15, 0.2, 0.12, 0.35, 0.33, 0.3, 0.3, 0.32, 0.33, 0.35, 0.33, 0.32, 0.3, 0.32,
               0.3, 0.28, 0.3, 0.3, 0.22, 0.15, 0.15, 0.12, 0.12]
zoom_early_hi = [0.3, 0.28, 0.3, 0.32, 0.3, 0.9, 0.88, 0.7, 0.6, 0.55, 0.55, 0.5, 0.45, 0.42, 0.42, 0.4, 0.4, 0.38,
                 0.38, 0.4, 0.42, 0.3, 0.28, 0.28, 0.28, 0.28]
zoom_early_lo = [0.05, 0.1, 0.12, 0.1, 0.08, 0.12, 0.2, 0.18, 0.12, 0.08, 0.06, 0.05, 0.05, 0.06, 0.08, 0.06, 0.05,
                 0.06, 0.08, 0.1, 0.1, 0.08, 0.08, 0.1, 0.1, 0.1]
zoom_sust_hi = [0.3, 0.32, 0.33, 0.33, 0.28, 0.3, 0.42, 0.48, 0.52, 0.55, 0.58, 0.6, 0.58, 0.55, 0.53, 0.52, 0.5,
                0.52, 0.5, 0.52, 0.55, 0.35, 0.3, 0.3, 0.3, 0.3]
zoom_sust_lo = [0.05, 0.1, 0.12, 0.12, 0.08, 0.08, 0.18, 0.2, 0.25, 0.3, 0.32, 0.32, 0.3, 0.3, 0.3, 0.28, 0.28,
                0.28, 0.28, 0.3, 0.32, 0.1, 0.06, 0.08, 0.1, 0.1]

# (d) time to peak vs similarity
early_points = [(2.3, 0.545), (2.9, 0.53), (2.6, 0.48), (2.3, 0.38), (1.7, 0.33), (2.6, 0.33), (0.8, 0.28),
                (1.7, 0.27), (1.1, 0.235), (2.0, 0.25), (0.5, 0.2), (1.4, 0.21), (2.6, 0.22), (1.7, 0.17),
                (0.8, 0.185), (2.3, 0.11), (1.4, 0.11), (2.0, 0.087), (0.8, 0.074), (1.7, 0.037), (1.1, 0.0),
                (2.3, 0.0), (1.4, -0.025), (2.6, 0.012), (0.8, 0.037), (2.0, -0.012), (1.7, 0.136), (1.1, 0.33),
                (2.3, 0.28), (1.4, 0.38), (2.0, 0.4), (2.6, 0.185), (2.9, 0.22), (0.8, 0.136), (1.4, 0.06),
                (2.3, 0.06), (0.5, 0.26), (1.7, 0.445), (1.1, 0.15)]
sust_points = [(8.2, 0.67), (10.2, 0.71), (11.9, 0.58), (13.4, 0.74), (14.9, 0.80), (15.8, 0.68), (16.5, 0.48),
               (13.9, 0.11), (4.4, 0.15), (6.0, 0.28), (17.8, 0.38), (18.6, 0.66), (19.3, 0.48), (19.9, 0.51),
               (21.5, 0.70), (21.8, 0.61), (21.6, 0.33), (22.5, 0.57), (23.0, 0.73), (22.7, 0.67), (23.7, 0.34),
               (24.1, 0.53), (24.3, 0.45), (24.5, 0.36), (24.7, 0.38), (25.4, 0.38), (26.2, 0.63), (26.5, 0.74),
               (27.0, 0.69), (28.0, 0.43), (28.4, 0.47), (29.3, 0.42), (30.0, 0.62), (30.3, 0.74), (30.6, 0.64),
               (30.2, 0.53), (30.5, 0.60), (23.9, 0.55), (24.2, 0.40), (29.0, 0.45), (20.9, 0.64)]
sig_span = (0, 30)
sig_level = 0.935

# ------------------------------------------------------------------------------------------
# colours and layout helpers
c_red = "#e8223f"
c_blue = "#2068c0"
c_green = "#6ab23e"
c_venule = "#1e9bd7"
c_puff = "#0a86cc"

W, H = 603, 1374
fig = plt.figure(figsize=(W / 100, H / 100), dpi=100)


def px_box(left, top, right, bottom):
    return [left / W, 1 - bottom / H, (right - left) / W, (bottom - top) / H]


def ftext(x, y, s, **kw):
    fig.text(x / W, 1 - y / H, s, **kw)


def fline(x0, y0, x1, y1, **kw):
    fig.add_artist(Line2D([x0 / W, x1 / W], [1 - y0 / H, 1 - y1 / H], transform=fig.transFigure, **kw))


def xy(pairs):
    arr = np.array(pairs, dtype=float)
    return arr[:, 0], arr[:, 1]


# frame round the figure
fline(15, 5, 603, 5, color="k", lw=2)
fline(15, 5, 15, 1374, color="k", lw=2)

# ------------------------------------------------------------------------------------------
# (a) air puff / whisker / motion
ftext(37, 44, "(a)", fontsize=14, va="center")
ftext(113, 42, "30 seconds air puff", fontsize=13, va="center")
ftext(98, 63, "air puff", fontsize=13, va="center", ha="right")

ax = fig.add_axes(px_box(115, 58, 573, 68))
ax.set_xlim(0, 300)
ax.set_ylim(0, 1)
for on, off in zip(puff_on, puff_off):
    ax.axvspan(on, off, color=c_puff, lw=0)
ax.set_xticks([])
ax.set_yticks([])
for sp in ax.spines.values():
    sp.set_color("#9a9a9a")
    sp.set_linewidth(0.8)

frame_col = "#3c3c3c"

ax = fig.add_axes(px_box(115, 81, 573, 141))
ax.set_xlim(0, 300)
ax.set_ylim(-42, 133)
ax.hlines(whisker_rest, 0, 300, color="k", lw=1.2)
for block in whisker_blocks:
    bt, bl = xy(block)
    ax.fill_between(bt, bl, whisker_rest, color="k", lw=0.4)
dt, dv = xy(whisker_dips)
ax.vlines(dt, dv, whisker_rest, color="k", lw=0.8)
ax.set_yticks([0, 50, 100])
ax.set_xticks(np.arange(0, 301, 50))
ax.set_xticklabels([])
ax.tick_params(direction="in", top=True, right=True, length=3, width=1.2, color=frame_col, labelsize=12, pad=2)
for sp in ax.spines.values():
    sp.set_color(frame_col)
    sp.set_linewidth(1.6)
ftext(51, 111, "whisker", rotation=90, ha="center", va="center", fontsize=13)
ftext(70, 111, "angle (°)", rotation=90, ha="center", va="center", fontsize=13)

ax = fig.add_axes(px_box(115, 147, 573, 204))
ax.set_xlim(0, 300)
ax.set_ylim(-0.23, 1.63)
ax.fill_between([0, 300], -0.23, motion_rest, color="k", lw=0)
for block in motion_blocks:
    bt, bh = xy(block)
    ax.fill_between(bt, 0, bh, color="k", lw=0.4)
mt, mh = xy(motion_spikes)
ax.vlines(mt, 0, mh, color="k", lw=0.9)
ax.set_yticks([0, 1])
ax.set_xticks(np.arange(0, 301, 50))
ax.set_xticklabels([])
ax.tick_params(direction="in", top=True, right=True, length=3, width=1.2, color=frame_col, labelsize=12, pad=2)
for sp in ax.spines.values():
    sp.set_color(frame_col)
    sp.set_linewidth(1.6)
ftext(51, 176, "motion", rotation=90, ha="center", va="center", fontsize=13)
ftext(70, 176, "(a.u.)", rotation=90, ha="center", va="center", fontsize=13)

# diameter
ax = fig.add_axes(px_box(114, 229, 572, 369))
ax.set_xlim(0, 300)
ax.set_ylim(9.3, 15.05)
vt, vv = xy(venule)
at, av = xy(arteriole)
ax.plot(vt, vv, color=c_venule, lw=1.4)
ax.plot(at, av, color=c_red, lw=1.4)
ax.set_yticks([10, 11, 12, 13, 14])
ax.set_yticklabels(["10", "", "12", "", "14"])
ax.set_xticks(np.arange(0, 301, 50))
ax.set_xticklabels([])
ax.tick_params(direction="in", top=True, right=True, length=3, color="#555555", labelsize=13, pad=3)
for sp in ax.spines.values():
    sp.set_color("#555555")
    sp.set_linewidth(1.0)
ax.set_ylabel("diameter (µm)", fontsize=13, labelpad=4)
ax.plot([0.77, 0.82], [0.68, 0.68], transform=ax.transAxes, color=c_venule, lw=1.4)
ax.text(0.85, 0.68, "venule", transform=ax.transAxes, va="center", fontsize=13)
ax.plot([0.77, 0.82], [0.05, 0.05], transform=ax.transAxes, color=c_red, lw=1.4)
ax.text(0.835, 0.05, "arteriole", transform=ax.transAxes, va="center", fontsize=13)

# ------------------------------------------------------------------------------------------
# single neurons
ftext(37, 397, "(a)", fontsize=14, va="center")
ftext(114, 402, "early responding neuron", fontsize=13, va="center")
ftext(108, 588, "sustaining throughout airpuff", fontsize=13, va="center")
ftext(58, 573, "0.2 ΔF/F", rotation=90, ha="center", va="center", fontsize=12)

traces = [neuron_early_1, neuron_early_2, neuron_sust_1, neuron_sust_2, neuron_sust_3]
trace_cols = [c_blue, c_blue, c_green, c_green, c_green]
base_px = [465, 540, 653, 727, 800]      # pixel row of dF/F = 0
bar_px = [21, 20, 8.3, 13.3, 12.3]       # pixel length of 0.2 dF/F
bar_lo = [0.0, -0.03, 0.04, -0.07, 0.02]
for tr, col, yb, bp, blo in zip(traces, trace_cols, base_px, bar_px, bar_lo):
    ax = fig.add_axes(px_box(115, yb - 75, 573, yb + 20))
    ax.set_xlim(0, 300)
    ax.set_ylim(-20 / bp * 0.2, 75 / bp * 0.2)
    ax.axis("off")
    tt, tv = xy(tr)
    ax.plot(tt, tv, color="#c3c6cc", lw=2.6, solid_joinstyle="round", clip_on=False)
    ax.plot(tt, tv, color=col, lw=1.3, clip_on=False)
    ax.plot([-15, -15], [blo, blo + 0.2], color="#333333", lw=1.6, clip_on=False)

# ------------------------------------------------------------------------------------------
# (c) averages
ftext(37, 837, "(c)", fontsize=14, va="center")
legend_rows = [(836, c_red, 2.4, "arteriole diameter (n=8 from 3 mice)"),
               (856, c_blue, 1.4, "early responding neuron (n=39 from 3 mice)"),
               (877, c_green, 1.4, "sustaining neuron (n=41 from 3 mice)")]
for ly, lc, lw, ls in legend_rows:
    fline(189, ly, 210, ly, color=lc, lw=lw)
    ftext(217, ly, ls, fontsize=13, va="center")

ax = fig.add_axes(px_box(115, 877, 572, 1023))
ax.set_xlim(0, 300)
ax.set_ylim(-0.1, 1.0)
ax.fill_between(band_t, band_art_lo, band_art_hi, color=c_red, alpha=0.09, lw=0)
ax.fill_between(band_t, band_early_lo, band_early_hi, color=c_blue, alpha=0.08, lw=0)
ax.fill_between(band_t, band_sust_lo, band_sust_hi, color=c_green, alpha=0.08, lw=0)
gt, gv = xy(mean_sust)
bt_, bv_ = xy(mean_early)
rt, rv = xy(mean_arteriole)
ax.plot(gt, gv, color=c_green, lw=1.3)
ax.plot(bt_, bv_, color=c_blue, lw=1.3)
ax.plot(rt, rv, color=c_red, lw=2.4)
ax.set_yticks([0, 0.2, 0.4, 0.6, 0.8])
ax.set_yticklabels(["0", "", "0.4", "", "0.8"])
ax.set_xticks(np.arange(0, 301, 50))
ax.set_xticklabels(["0", "", "100", "", "200", "", "300"])
ax.tick_params(direction="in", right=True, length=4, width=1.2, labelsize=13, pad=3)
ax.spines["top"].set_visible(False)
for side in ["left", "right", "bottom"]:
    ax.spines[side].set_linewidth(1.6)
ax.set_xlabel("time (sec)", fontsize=13, labelpad=1)
ftext(50, 957, "normalized", rotation=90, ha="center", va="center", fontsize=13.5)
ftext(70, 957, "diameter or ΔF/F", rotation=90, ha="center", va="center", fontsize=13.5)

# dashed lines to the zoom panel
fline(115, 1024, 73, 1076, color="#666666", lw=0.8, ls=(0, (3, 2)))
fline(191, 1024, 232, 1076, color="#666666", lw=0.8, ls=(0, (3, 2)))

ax = fig.add_axes(px_box(73, 1076, 232, 1312))
ax.set_xlim(0, 50)
ax.set_ylim(0, 0.944)
ax.fill_between(zoom_band_t, zoom_art_lo, zoom_art_hi, color=c_red, alpha=0.09, lw=0)
ax.fill_between(zoom_band_t, zoom_early_lo, zoom_early_hi, color=c_blue, alpha=0.08, lw=0)
ax.fill_between(zoom_band_t, zoom_sust_lo, zoom_sust_hi, color=c_green, alpha=0.08, lw=0)
gt, gv = xy(zoom_sust)
bt_, bv_ = xy(zoom_early)
rt, rv = xy(zoom_arteriole)
ax.plot(gt, gv, color=c_green, lw=1.3)
ax.plot(bt_, bv_, color=c_blue, lw=1.3)
ax.plot(rt, rv, color=c_red, lw=2.4)
ax.set_yticks([0.2, 0.4, 0.6, 0.8])
ax.set_yticklabels([])
ax.set_xticks([0, 50])
ax.tick_params(direction="in", right=True, length=4, width=1.2, labelsize=13, pad=4)
ax.spines["top"].set_visible(False)
for side in ["left", "right", "bottom"]:
    ax.spines[side].set_linewidth(1.6)
ax.set_xlabel("time (sec)", fontsize=13, labelpad=4)

# ------------------------------------------------------------------------------------------
# (d) scatter
ftext(281, 1108, "(d)", fontsize=14, va="center")
ftext(470, 1101, "GCaMP7f signal from", fontsize=13, ha="center", va="center")
ftext(470, 1122, "individual neuron responding", fontsize=13, ha="center", va="center")
ftext(470, 1143, "to whisker puff", fontsize=13, ha="center", va="center")

ax = fig.add_axes(px_box(365, 1163, 573, 1304))
ax.set_xlim(-0.1, 31.9)
ax.set_ylim(-0.067, 0.978)
ax.plot(sig_span, [sig_level, sig_level], color=c_venule, lw=3.5, solid_capstyle="butt")
ex, ey = xy(early_points)
sx, sy = xy(sust_points)
ax.scatter(sx, sy, s=44, color=c_green, alpha=0.9, edgecolors="none", zorder=3)
ax.scatter(ex, ey, s=44, color="#1f52b4", alpha=0.85, edgecolors="none", zorder=3)
ax.text(0.9, 0.83, "p", style="italic", fontsize=13, va="center")
ax.text(2.3, 0.83, "=0.0252", fontsize=13, va="center")
ax.set_yticks([0, 0.2, 0.4, 0.6, 0.8])
ax.set_yticklabels(["0", "", "0.4", "", "0.8"])
ax.set_xticks([0, 10, 20, 30])
ax.tick_params(direction="in", top=True, right=True, length=3, width=1.2, labelsize=13, pad=2)
for sp in ax.spines.values():
    sp.set_linewidth(1.6)
ax.set_xlabel("time to ΔF/F peak (sec)", fontsize=13, labelpad=0)
ftext(300, 1237, "similarity between arteriolar", rotation=90, ha="center", va="center", fontsize=13)
ftext(321, 1237, "dilatation and ΔF/F (r)", rotation=90, ha="center", va="center", fontsize=13)

fig.savefig("out.png", dpi=100)
